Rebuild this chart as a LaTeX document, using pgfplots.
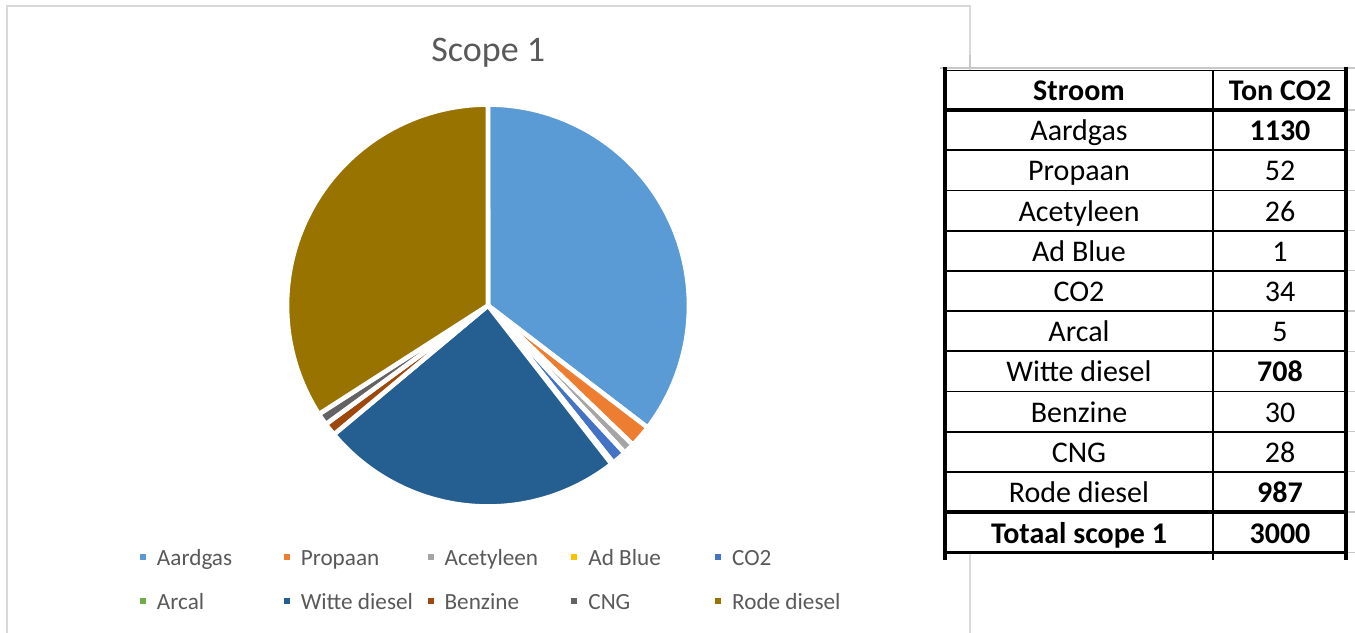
\documentclass[border=0pt]{standalone}
\usepackage{fontspec}
\setmainfont{Carlito}
\usepackage{pgfplots}
\pgfplotsset{compat=1.18}

\definecolor{cAardgas}{HTML}{5B9BD5}
\definecolor{cPropaan}{HTML}{ED7D31}
\definecolor{cAcetyleen}{HTML}{A5A5A5}
\definecolor{cAdBlue}{HTML}{FFC000}
\definecolor{cCOtwo}{HTML}{4472C4}
\definecolor{cArcal}{HTML}{70AD47}
\definecolor{cWitte}{HTML}{255E91}
\definecolor{cBenzine}{HTML}{9E480E}
\definecolor{cCNG}{HTML}{636363}
\definecolor{cRode}{HTML}{997300}
\definecolor{txtgray}{HTML}{595959}
\definecolor{framegray}{HTML}{D9D9D9}
\definecolor{gridgray}{HTML}{C8C8C8}

% pie values as drawn (value/colour/name), clockwise from 12 o'clock
\def\piedata{1025/cAardgas/Aardgas,52/cPropaan/Propaan,26/cAcetyleen/Acetyleen,1/cAdBlue/Ad Blue,34/cCOtwo/CO2,5/cArcal/Arcal,708/cWitte/Witte diesel,30/cBenzine/Benzine,28/cCNG/CNG,987/cRode/Rode diesel}
\def\total{0}
\foreach \v/\c/\n in \piedata {\pgfmathparse{\total+\v}\xdef\total{\pgfmathresult}}
\def\curang{90}

\begin{document}
\begin{tikzpicture}
\useasboundingbox (0,0) rectangle (677.5pt,-316pt);

% chart frame and title (coordinates in screen pixels)
\begin{scope}[x=0.5pt,y=-0.5pt]
\draw[framegray, line width=0.8pt] (7,640) -- (7,6) -- (970,6) -- (970,640);
\node[anchor=base, text=txtgray, font=\fontsize{18}{20}\selectfont] at (488.3,61.7) {Scope 1};
\end{scope}

\begin{axis}[%
  at={(244pt,-152.75pt)}, anchor=center,
  width=201pt, height=201pt, scale only axis,
  xmin=-1, xmax=1, ymin=-1, ymax=1,
  hide axis, clip=false,
  legend columns=5,
  legend image code/.code={\fill[#1, draw=none] (0pt,-1.5pt) rectangle (3pt,1.5pt);},
  legend style={%
    at={(-0.3657,-0.1032)}, anchor=north west,
    draw=none, fill=none, inner sep=0pt, outer sep=0pt,
    row sep=13pt,
    nodes={inner sep=0pt, text height=9pt, text depth=0pt, text=txtgray,
      font=\fontsize{11.6}{13}\selectfont},
    /tikz/every odd column/.append style={column sep=5.5pt}%
  },
]
\foreach \v/\c/\n in \piedata {%
  \pgfmathsetmacro\endang{\curang-360*(\v/\total)}%
  \edef\temp{\noexpand\addplot[fill=\c, draw=white, line width=2.3pt, line join=round,
    domain=\endang:\curang, samples=80]
    ({cos(x)},{sin(x)}) -- (axis cs:0,0) -- cycle;
    \noexpand\addlegendentry{\noexpand\makebox[63.4pt][l]{\n}}}%
  \temp
  \xdef\curang{\endang}%
}
\end{axis}

% table
\begin{scope}[x=0.5pt,y=-0.5pt]
\draw[gridgray, line width=1pt] (940,68) -- (1355,68);
\foreach \y in {110,150.2,190.4,230.6,270.8,311,351.2,391.4,431.6,471.8,512,552.2}
  \draw[gridgray, line width=0.6pt] (1346,\y) -- (1355,\y);
\draw[gridgray, line width=0.6pt] (970,55) -- (970,68);
\fill[white] (945,70) rectangle (1346,552.5);
\draw[black, line width=0.8pt] (945,70.5) -- (1346,70.5);
\foreach \y in {150.2,190.4,230.6,270.8,311,351.2,391.4,431.6,471.8}
  \draw[black, line width=0.9pt] (945,\y) -- (1346,\y);
\draw[black, line width=1.8pt] (945,110) -- (1346,110);
\draw[black, line width=1.6pt] (945,512) -- (1346,512);
\draw[black, line width=1.8pt] (945,552.5) -- (1346,552.5);
\draw[black, line width=0.9pt] (1213.3,70) -- (1213.3,560);
\draw[black, line width=2pt] (945,67) -- (945,560);
\draw[black, line width=2pt] (1346,67) -- (1346,560);
\begin{scope}[every node/.style={anchor=base, font=\fontsize{15}{18}\selectfont}]
\node[font=\fontsize{15}{18}\selectfont\bfseries] at (1079,100.5) {Stroom};
\node[font=\fontsize{15}{18}\selectfont\bfseries] at (1280,100.5) {Ton CO2};
\node at (1079,140.7) {Aardgas};      \node[font=\fontsize{15}{18}\selectfont\bfseries] at (1280,140.7) {1130};
\node at (1079,180.9) {Propaan};      \node at (1280,180.9) {52};
\node at (1079,221.1) {Acetyleen};    \node at (1280,221.1) {26};
\node at (1079,261.3) {Ad Blue};      \node at (1280,261.3) {1};
\node at (1079,301.5) {CO2};          \node at (1280,301.5) {34};
\node at (1079,341.7) {Arcal};        \node at (1280,341.7) {5};
\node at (1079,381.9) {Witte diesel}; \node[font=\fontsize{15}{18}\selectfont\bfseries] at (1280,381.9) {708};
\node at (1079,422.1) {Benzine};      \node at (1280,422.1) {30};
\node at (1079,462.3) {CNG};          \node at (1280,462.3) {28};
\node at (1079,502.5) {Rode diesel};  \node[font=\fontsize{15}{18}\selectfont\bfseries] at (1280,502.5) {987};
\node[font=\fontsize{15}{18}\selectfont\bfseries] at (1079,543) {Totaal scope 1};
\node[font=\fontsize{15}{18}\selectfont\bfseries] at (1280,543) {3000};
\end{scope}
\end{scope}
\end{tikzpicture}
\end{document}
